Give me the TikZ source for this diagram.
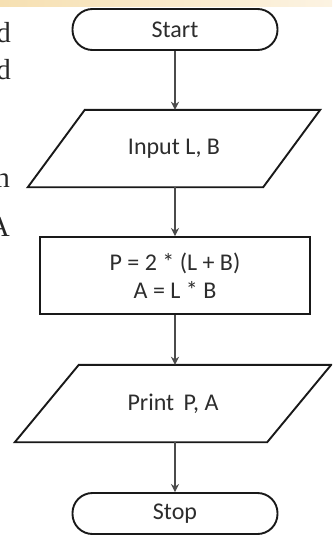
\documentclass[tikz,border=0pt]{standalone}
\usepackage{fontspec}
\setmainfont{Liberation Serif}
\newfontfamily\flowfont{Carlito}
\usetikzlibrary{arrows.meta}
\definecolor{bandL}{RGB}{246,224,178}
\definecolor{bandR}{RGB}{252,243,226}
\definecolor{edge}{RGB}{25,25,25}
\definecolor{arr}{RGB}{75,75,75}
\definecolor{txt}{RGB}{45,45,45}
\tikzset{
  box/.style={draw=edge, line width=1.9pt, fill=white, inner sep=0pt,
    font=\flowfont\fontsize{24}{28}\selectfont, text=txt, align=center},
  term/.style={box, rounded corners=20pt, minimum width=205pt, minimum height=41pt},
  procbox/.style={box, minimum width=270pt, minimum height=77pt},
  iobox/.style={draw=none, inner sep=0pt, minimum height=77pt,
    font=\flowfont\fontsize{24}{28}\selectfont, text=txt, align=center},
  para/.style={draw=edge, line width=1.9pt, line join=miter},
  flow/.style={draw=arr, line width=1.6pt, -{Stealth[length=8pt,width=8pt,inset=2.5pt]}},
  sidetext/.style={anchor=base east, inner sep=0pt, font=\fontsize{29}{36}\selectfont, text=black!85}
}
\begin{document}
\begin{tikzpicture}[x=1pt,y=1pt]
\useasboundingbox (0,0) rectangle (332,-538);
\clip (0,0) rectangle (332,-538);
\fill[white] (0,0) rectangle (332,-538);
\shade[left color=bandL, right color=bandR] (0,0) rectangle (332,-6);
% side text fragments
\node[sidetext] (t1) at (11,-42) {d};
\node[sidetext] (t2) at (11,-79) {d};
\node[sidetext] (t3) at (10,-187) {h};
\node[sidetext] (t4) at (10,-236) {A};
% flowchart
\node[term] (start) at (175,-29.5) {Start};
\node[iobox, minimum width=235pt] (in) at (174,-148.5) {Input L, B};
\draw[para] ([xshift=-28.5pt]in.south west) -- ([xshift=-28.5pt]in.south east)
  -- ([xshift=28.5pt]in.north east) -- ([xshift=28.5pt]in.north west) -- cycle;
\node[procbox] (calc) at (175,-275.5) {P = 2 * (L + B)\\A = L * B};
\node[iobox, minimum width=252pt] (out) at (173,-403.5) {Print\, P, A};
\draw[para] ([xshift=-32pt]out.south west) -- ([xshift=-32pt]out.south east)
  -- ([xshift=32pt]out.north east) -- ([xshift=32pt]out.north west) -- cycle;
\node[term] (stop) at (175,-513.5) {Stop};
% connectors
\draw[flow] (start.south) -- (in.north -| start.south);
\draw[flow] (in.south -| start.south) -- (calc.north);
\draw[flow] (calc.south) -- (out.north -| calc.south);
\draw[flow] (out.south -| calc.south) -- (stop.north);
\end{tikzpicture}
\end{document}
